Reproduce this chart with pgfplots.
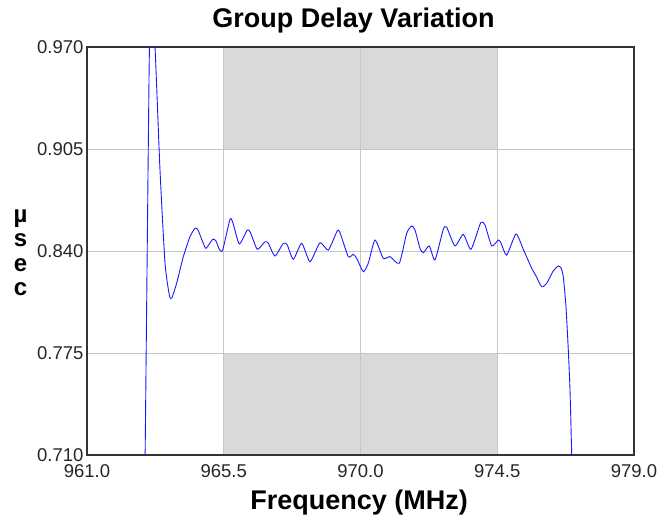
\documentclass[border=0pt]{standalone}
\usepackage{fontspec}
\setmainfont{Liberation Sans}
\usepackage{pgfplots}
\pgfplotsset{compat=1.18}
\definecolor{band}{RGB}{217,217,217}
\definecolor{gridc}{RGB}{198,198,198}
\definecolor{trace}{RGB}{25,25,255}

\begin{document}
\begin{tikzpicture}
\begin{axis}[
    set layers,
    scale only axis,
    width=547bp,
    height=408bp,
    at={(0,0)},
    anchor=south west,
    xmin=961, xmax=979,
    ymin=0.710, ymax=0.970,
    xtick={961,965.5,970,974.5,979},
    xticklabels={961.0,965.5,970.0,974.5,979.0},
    ytick={0.710,0.775,0.840,0.905,0.970},
    yticklabels={0.710,0.775,0.840,0.905,0.970},
    major tick length=0pt,
    tick label style={font=\fontsize{18.5bp}{20bp}\selectfont, text=black!85},
    xticklabel style={yshift=-6.5bp},
    grid=major,
    major grid style={gridc, line width=0.8bp},
    axis line style={black!80, line width=1.6bp},
    every axis title shift=0pt,
    title={Group Delay Variation},
    title style={font=\bfseries\fontsize{27bp}{30bp}\selectfont,
        at={(axis description cs:0.4872,1.0466)}, anchor=base},
    xlabel={Frequency (MHz)},
    xlabel style={font=\bfseries\fontsize{27bp}{30bp}\selectfont,
        at={(axis description cs:0.4973,-0.1348)}, anchor=base},
    ylabel={µ\\s\\e\\c},
    ylabel style={font=\bfseries\fontsize{24bp}{24.5bp}\selectfont,
        align=center, rotate=-90, inner sep=0pt,
        at={(axis description cs:-0.1216,0.496)}, anchor=center},
]
% shaded bands
\addplot[fill=band, draw=none, forget plot, on layer=axis background]
    coordinates {(965.5,0.905) (974.5,0.905) (974.5,0.970) (965.5,0.970)} -- cycle;
\addplot[fill=band, draw=none, forget plot, on layer=axis background]
    coordinates {(965.5,0.710) (974.5,0.710) (974.5,0.775) (965.5,0.775)} -- cycle;

% group delay trace
\addplot[trace, line width=0.9bp, smooth, tension=0.35] coordinates {
(962.908,0.700) (963.017,0.9065) (963.057,0.970) (963.14,0.985) (963.238,0.970)
(963.402,0.8916) (963.567,0.8324) (963.708,0.8120) (963.787,0.8099) (963.952,0.8196)
(964.169,0.8364) (964.389,0.8491) (964.554,0.8545) (964.652,0.8534) (964.827,0.8449)
(964.916,0.8417) (965.136,0.8475) (965.245,0.8464) (965.353,0.8411) (965.465,0.8406)
(965.706,0.8602) (965.804,0.8578) (966.012,0.8445) (966.275,0.8534) (966.380,0.8517)
(966.604,0.8411) (966.857,0.8459) (966.966,0.8449) (967.186,0.8368) (967.459,0.8449)
(967.591,0.8438) (967.788,0.8347) (968.065,0.8449) (968.338,0.8332) (968.667,0.8453)
(968.940,0.8406) (969.236,0.8529) (969.325,0.8517) (969.598,0.8364) (969.763,0.8379)
(969.875,0.8353) (970.092,0.8268) (970.256,0.8322) (970.477,0.8470) (970.750,0.8353)
(970.970,0.8364) (971.276,0.8322) (971.520,0.8513) (971.684,0.8559) (971.793,0.8534)
(971.958,0.8417) (972.066,0.8389) (972.264,0.8432) (972.451,0.8343) (972.724,0.8538)
(972.836,0.8551) (973.109,0.8432) (973.382,0.8506) (973.636,0.8411) (973.955,0.8580)
(974.096,0.8566) (974.317,0.8432) (974.534,0.8470) (974.623,0.8451) (974.810,0.8374)
(975.116,0.8508) (975.357,0.8411) (975.633,0.8290) (975.775,0.8241) (975.962,0.8172)
(976.127,0.8194) (976.344,0.8274) (976.509,0.8304) (976.597,0.8292) (976.673,0.8236)
(976.762,0.8045) (976.838,0.7769) (976.894,0.7514) (976.949,0.7111) (976.966,0.700)
};
\end{axis}
\pgfresetboundingbox
\path[use as bounding box] (-87bp,-66bp) rectangle (580bp,455bp);
\end{tikzpicture}
\end{document}
